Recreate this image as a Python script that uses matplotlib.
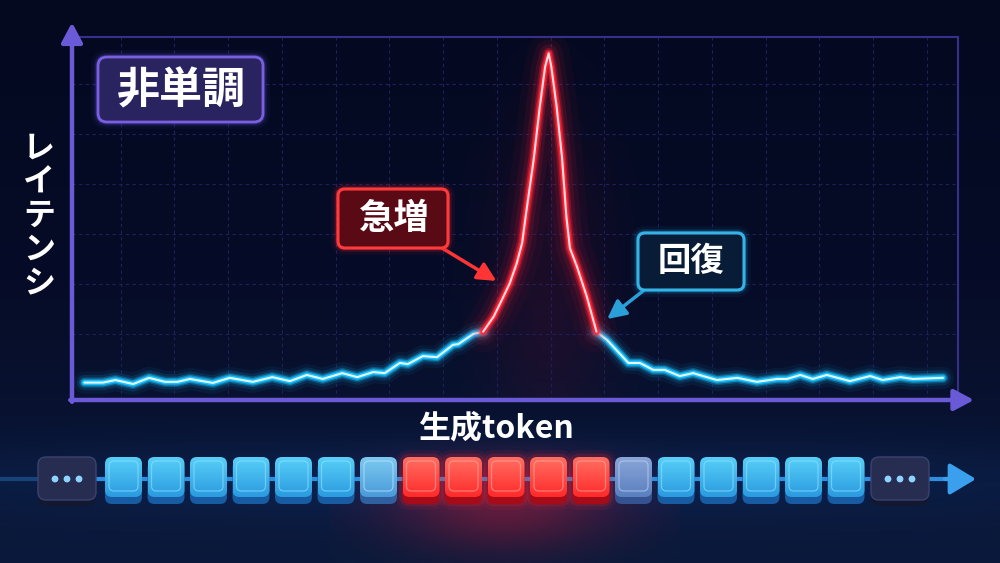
import numpy as np
import matplotlib.pyplot as plt
from matplotlib.patches import FancyBboxPatch, Circle
from matplotlib.colors import LinearSegmentedColormap, to_rgb

plt.rcParams['font.family'] = ['Noto Sans CJK JP', 'DejaVu Sans']

# latency curve (x: generation step 0-100, y: latency 0-100)
rise_x = [1.4, 3.5, 4.9, 6.9, 8.7, 10.5, 11.9, 13.3, 15.9, 17.8, 20.4, 22.6, 24.6,
          26.5, 28.3, 30.5, 32.2, 34.0, 35.3, 37.0, 37.9, 39.6, 41.2, 43.0, 43.6,
          45.3, 46.4]
rise_y = [4.8, 4.8, 5.5, 4.4, 6.1, 5.0, 5.0, 5.8, 4.7, 6.1, 5.0, 6.3, 5.2,
          6.9, 5.8, 7.4, 6.3, 7.7, 7.4, 10.2, 9.9, 12.1, 11.8, 15.2, 15.4,
          18.2, 18.8]
spike_x = [46.4, 47.6, 48.5, 49.4, 50.2, 50.8, 51.3, 52.1, 52.8, 53.4, 53.8,
           54.1, 54.7, 55.3, 55.8, 56.2, 57.0, 58.1, 59.2]
spike_y = [18.8, 23.0, 27.5, 32.1, 37.7, 43.2, 52.3, 66.1, 80.8, 91.8, 95.5,
           91.8, 80.8, 67.0, 50.5, 41.8, 36.7, 28.5, 18.8]
recover_x = [59.2, 60.4, 62.8, 64.1, 65.6, 66.9, 68.6, 70.1, 72.8, 75.1, 77.3,
             79.6, 80.7, 82.2, 83.6, 85.2, 87.8, 90.1, 91.5, 93.5, 94.9, 98.3]
recover_y = [18.8, 16.5, 10.2, 10.2, 8.3, 8.3, 6.6, 7.4, 5.5, 6.1, 5.0,
             5.8, 5.8, 6.9, 5.8, 6.9, 5.2, 6.6, 5.5, 6.3, 5.8, 6.1]

# token strip: state of each generated token
token_states = ['blue'] * 6 + ['mix_b'] + ['red'] * 5 + ['mix_r'] + ['blue'] * 5

title_label = '非単調'
spike_label = '急増'
recover_label = '回復'
x_label = '生成token'
y_label = 'レイテンシ'

W, H = 1000, 563
fig = plt.figure(figsize=(W / 100, H / 100), dpi=100)

# background gradient
bg = fig.add_axes([0, 0, 1, 1], zorder=-10)
bg_cmap = LinearSegmentedColormap.from_list('bg', ['#040920', '#060c27', '#0b1a3c'])
bg.imshow(np.linspace(0, 1, 256)[:, None], cmap=bg_cmap, aspect='auto',
          extent=[0, 1, 0, 1], origin='upper')
bg.axis('off')

# main chart
ax = fig.add_axes([72 / W, 1 - 400 / H, 886 / W, 363 / H])
ax.set_xlim(0, 100)
ax.set_ylim(0, 100)
ax.patch.set_alpha(0)
ax.set_xticks(np.linspace(5.5, 96.5, 16))
ax.set_yticks(18.2 + 13.77 * np.arange(6))
ax.grid(True, color='#221e5a', lw=0.8, ls=(0, (3, 3)))
ax.tick_params(length=0, labelbottom=False, labelleft=False)
for s in ['left', 'bottom']:
    ax.spines[s].set_visible(False)
for s in ['top', 'right']:
    ax.spines[s].set_color('#37308a')
    ax.spines[s].set_linewidth(1.5)

axis_arrow = dict(arrowstyle='-|>,head_length=0.6,head_width=0.32', color='#6a5ad8',
                  lw=3.2, shrinkA=0, shrinkB=0, mutation_scale=20)
ax.annotate('', xy=(0, 1.04), xytext=(0, -0.005), xycoords='axes fraction',
            arrowprops=axis_arrow, annotation_clip=False)
ax.annotate('', xy=(1.018, 0), xytext=(-0.002, 0), xycoords='axes fraction',
            arrowprops=axis_arrow, annotation_clip=False)

# soft dark-red haze behind the spike
peak_x = spike_x[spike_y.index(max(spike_y))]
gx, gy = np.meshgrid(np.linspace(30, 78, 160), np.linspace(0, 100, 160))
haze = np.zeros(gx.shape + (4,))
haze[..., :3] = to_rgb('#ff1a3a')
haze[..., 3] = 0.09 * np.exp(-((gx - peak_x) / 7) ** 2 - ((gy - 30) / 45) ** 2)
ax.imshow(haze, extent=[30, 78, 0, 100], origin='lower', aspect='auto', zorder=0.5)


def glow_line(x, y, color, core, layers):
    for lw, a in layers:
        ax.plot(x, y, color=color, lw=lw, alpha=a, solid_capstyle='round',
                solid_joinstyle='round')
    ax.plot(x, y, color=color, lw=3.6, solid_capstyle='round', solid_joinstyle='round')
    ax.plot(x, y, color=core, lw=1.5, solid_capstyle='round', solid_joinstyle='round')


blue_glow = [(16, 0.06), (11, 0.12), (7.5, 0.25), (5.5, 0.5)]
red_glow = [(30, 0.04), (20, 0.07), (13, 0.12), (8, 0.25), (5.5, 0.5)]
glow_line(rise_x, rise_y, '#19c2ff', '#e4f9ff', blue_glow)
glow_line(recover_x, recover_y, '#19c2ff', '#e4f9ff', blue_glow)
glow_line(spike_x, spike_y, '#ff2436', '#ffdde0', red_glow)
ax.set_xlim(0, 100)
ax.set_ylim(0, 100)

# overlay in pixel coordinates (y downwards)
ov = fig.add_axes([0, 0, 1, 1], zorder=2)
ov.patch.set_alpha(0)
ov.axis('off')


def glow_img(cx, cy, sx, sy, color, amax, extent):
    x0, x1, y0, y1 = extent
    gx, gy = np.meshgrid(np.linspace(x0, x1, 200), np.linspace(y0, y1, 100))
    a = amax * np.exp(-((gx - cx) / sx) ** 2 - ((gy - cy) / sy) ** 2)
    img = np.zeros(a.shape + (4,))
    img[..., :3] = to_rgb(color)
    img[..., 3] = a
    ov.imshow(img, extent=[x0, x1, y1, y0], aspect='auto', zorder=0, interpolation='bilinear')


glow_img(500, 480, 600, 40, '#1a4fa8', 0.22, (0, W, 420, H))
glow_img(505, 505, 110, 45, '#ff1a30', 0.35, (330, 680, 440, H))


def rbox(x0, y0, w, h, face, edge, lw, r, glow=None, z=3):
    if glow:
        for glw, a in [(10, 0.06), (6, 0.12), (3.5, 0.25)]:
            ov.add_patch(FancyBboxPatch((x0, y0), w, h, boxstyle=f'round,pad=0,rounding_size={r}',
                                        fc='none', ec=glow, lw=glw, alpha=a, zorder=z))
    ov.add_patch(FancyBboxPatch((x0, y0), w, h, boxstyle=f'round,pad=0,rounding_size={r}',
                                fc=face, ec=edge, lw=lw, zorder=z))


# label boxes
rbox(98, 57, 165, 65, '#29235f', '#7a60e0', 2, 9, glow='#6a50e0')
rbox(338, 189, 110, 59, '#5a0a14', '#ff3a3a', 2.2, 7, glow='#ff2030')
rbox(638, 233, 106, 57, '#081c38', '#35b3e6', 2.2, 7, glow='#1fa0e0')

ov.text(181, 90, title_label, ha='center', va='center', color='white', fontsize=31,
        fontweight='bold', zorder=5)
ov.text(394, 219, spike_label, ha='center', va='center', color='white', fontsize=25.5,
        fontweight='bold', zorder=5)
ov.text(691, 262, recover_label, ha='center', va='center', color='white', fontsize=24,
        fontweight='bold', zorder=5)
ov.text(496, 428, x_label, ha='center', va='center', color='white', fontsize=23,
        fontweight='bold', zorder=5)
ov.text(39, 216, '\n'.join(y_label), ha='center', va='center', color='white', fontsize=23,
        fontweight='bold', linespacing=1.06, zorder=5)

# callout arrows
ax.annotate('', xy=(47.9, 32.8), xytext=(442, 248), textcoords=ov.transData,
            arrowprops=dict(arrowstyle='-|>,head_length=0.7,head_width=0.35', color='#ff3535',
                            lw=2.5, shrinkA=0, shrinkB=0, mutation_scale=16))
ax.annotate('', xy=(60.4, 22.3), xytext=(643, 291), textcoords=ov.transData,
            arrowprops=dict(arrowstyle='-|>,head_length=0.7,head_width=0.35', color='#2a9fd8',
                            lw=2.5, shrinkA=0, shrinkB=0, mutation_scale=16))

# token strip
strip_y = 479
ov.plot([0, 40], [strip_y, strip_y], color='#2e8fe0', lw=3, alpha=0.35, zorder=1)
ov.plot([40, 950], [strip_y, strip_y], color='#2e8fe0', lw=3, zorder=1)
ov.annotate('', xy=(976, strip_y), xytext=(945, strip_y), xycoords='data',
            arrowprops=dict(arrowstyle='-|>,head_length=1.0,head_width=0.6', color='#3aa0ee',
                            lw=3, shrinkA=0, shrinkB=0, mutation_scale=16))

# (face top, face bottom, base, rim)
token_colors = {
    'blue': ('#58cff8', '#2a9be0', '#175ca2', '#90e2ff'),
    'mix_b': ('#7ccaf0', '#4a9ada', '#2f5f9e', '#c4e4ff'),
    'red': ('#ff6f62', '#ff2a2a', '#a80b18', '#ffaaa2'),
    'mix_r': ('#8aa6d8', '#5a7fbf', '#34528f', '#c0d4f4'),
}
TOKEN_X0, TOKEN_STEP, TW = 123.5, 42.5, 37
token_x = TOKEN_X0 + TOKEN_STEP * np.arange(len(token_states))
for cx, st in zip(token_x, token_states):
    top, bot, base, rim = token_colors[st]
    if st == 'red':
        for glw, a in [(10, 0.08), (5, 0.16)]:
            ov.add_patch(FancyBboxPatch((cx - TW / 2, 457), TW, 46, boxstyle='round,pad=0,rounding_size=7',
                                        fc='none', ec='#ff2030', lw=glw, alpha=a, zorder=3))
    ov.add_patch(FancyBboxPatch((cx - TW / 2, 461), TW, 43, boxstyle='round,pad=0,rounding_size=7',
                                fc=base, ec='none', zorder=3))
    face = FancyBboxPatch((cx - TW / 2, 457), TW, 40, boxstyle='round,pad=0,rounding_size=7',
                          fc='none', ec='none', zorder=3)
    ov.add_patch(face)
    grad = LinearSegmentedColormap.from_list('tok', [top, bot])
    im = ov.imshow(np.linspace(0, 1, 64)[:, None], cmap=grad, aspect='auto',
                   extent=[cx - TW / 2, cx + TW / 2, 497, 457], zorder=3.1)
    im.set_clip_path(face)
    ov.add_patch(FancyBboxPatch((cx - TW / 2 + 4, 461), TW - 8, 30, boxstyle='round,pad=0,rounding_size=5',
                                fc='none', ec=rim, lw=0.9, alpha=0.6, zorder=4))

# "..." boxes on both ends
for cx in [67, 900]:
    ov.add_patch(FancyBboxPatch((cx - 29, 462), 58, 44, boxstyle='round,pad=0,rounding_size=8',
                                fc='#12182f', ec='none', zorder=3))
    ov.add_patch(FancyBboxPatch((cx - 29, 457), 58, 43, boxstyle='round,pad=0,rounding_size=8',
                                fc='#272d50', ec='#3a4370', lw=1, zorder=3))
    for dx in (-12, 0, 12):
        ov.add_patch(Circle((cx + dx, strip_y), 2.7, color='#8fd3ff', zorder=4))

ov.set_xlim(0, W)
ov.set_ylim(H, 0)

fig.savefig('out.png', dpi=100)
